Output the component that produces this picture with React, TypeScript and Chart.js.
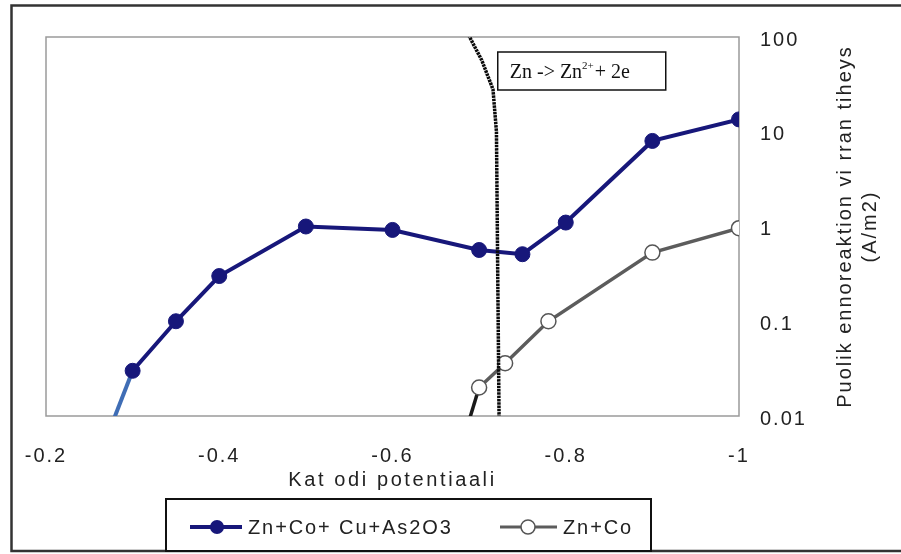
import React, { useEffect, useRef } from 'react';
import { Chart, registerables } from 'chart.js';

Chart.register(...registerables);

// ---- data ----
const xTickValues = [-1, -0.8, -0.6, -0.4, -0.2];
const yTickValues = [0.01, 0.1, 1, 10, 100];
const seriesNames = ['Zn+Co+ Cu+As2O3', 'Zn+Co'];
const xTitle = 'Kat odi potentiaali';
const yTitleLines = ['Puolik ennoreaktion vi rran tiheys', '(A/m2)'];
const annotationMain = 'Zn -> Zn';
const annotationSup = '2+';
const annotationTail = '+ 2e';

const blueX = [-0.25, -0.3, -0.35, -0.4, -0.5, -0.6, -0.7, -0.75, -0.8, -0.9, -1.0];
const blueY = [0.002, 0.03, 0.1, 0.3, 1.0, 0.92, 0.565, 0.51, 1.1, 8.0, 13.5];

const grayX = [-0.68, -0.7, -0.73, -0.78, -0.9, -1.0];
const grayY = [0.005, 0.02, 0.036, 0.1, 0.53, 0.96];

const znX = [-0.684, -0.689, -0.703, -0.716, -0.72, -0.721, -0.7215, -0.722, -0.723, -0.724];
const znY = [200, 100, 57, 28, 10, 1, 0.3, 0.1, 0.01, 0.005];

const FONT = '"Liberation Sans", Arial, sans-serif';
const SERIF = '"Liberation Serif", "DejaVu Serif", serif';
const NAVY = '#17177a';
const LIGHTBLUE = '#3f6db5';
const GRAY = '#5c5c5c';

const toPts = (xs: number[], ys: number[]) => xs.map((x, i) => ({ x, y: ys[i] }));

export default function App() {
  const ref = useRef<HTMLCanvasElement>(null);

  useEffect(() => {
    const canvas = ref.current!;

    const spacing = {
      id: 'spacing',
      beforeUpdate(chart: any) { chart.ctx.letterSpacing = '2px'; },
      beforeDraw(chart: any) { chart.ctx.letterSpacing = '2px'; },
    };

    const decor = {
      id: 'decor',
      beforeDatasetsDraw(chart: any) {
        const { ctx, chartArea: a } = chart;
        ctx.save();
        ctx.letterSpacing = '0px';
        // outer frame
        ctx.strokeStyle = '#333';
        ctx.lineWidth = 2.5;
        ctx.beginPath();
        ctx.moveTo(901, 5.5);
        ctx.lineTo(11.5, 5.5);
        ctx.lineTo(11.5, 551);
        ctx.lineTo(901, 551);
        ctx.stroke();
        // plot border
        ctx.strokeStyle = '#9a9a9a';
        ctx.lineWidth = 1.5;
        ctx.strokeRect(a.left, a.top, a.right - a.left, a.bottom - a.top);
        ctx.restore();
      },
      afterDatasetsDraw(chart: any) {
        const { ctx, chartArea: a, scales } = chart;
        ctx.save();
        ctx.letterSpacing = '0px';
        // annotation box
        const left = scales.x.getPixelForValue(-0.7215);
        const top = a.top + 15;
        const w = 168, h = 38;
        ctx.fillStyle = '#fff';
        ctx.fillRect(left, top, w, h);
        ctx.strokeStyle = '#111';
        ctx.lineWidth = 1.5;
        ctx.strokeRect(left, top, w, h);
        ctx.fillStyle = '#111';
        ctx.textBaseline = 'alphabetic';
        ctx.textAlign = 'left';
        const base = top + h / 2 + 7;
        ctx.font = `20px ${SERIF}`;
        let cx = left + 12;
        ctx.fillText(annotationMain, cx, base);
        cx += ctx.measureText(annotationMain).width;
        ctx.font = `11px ${SERIF}`;
        ctx.fillText(annotationSup, cx, base - 9);
        cx += ctx.measureText(annotationSup).width + 1;
        ctx.font = `20px ${SERIF}`;
        ctx.fillText(annotationTail, cx, base);
        ctx.restore();
      },
      afterDraw(chart: any) {
        const { ctx, chartArea: a } = chart;
        ctx.save();
        ctx.fillStyle = '#222';
        ctx.font = `20px ${FONT}`;
        ctx.letterSpacing = '2.6px';
        ctx.textAlign = 'center';
        ctx.textBaseline = 'middle';
        // x title
        ctx.fillText(xTitle, (a.left + a.right) / 2, a.bottom + 64);
        // y title
        ctx.save();
        ctx.letterSpacing = '2px';
        ctx.translate(a.right + 106, (a.top + a.bottom) / 2);
        ctx.rotate(-Math.PI / 2);
        yTitleLines.forEach((t, i) => ctx.fillText(t, 0, i * 25));
        ctx.restore();

        // legend
        const lx = 166, ly = 499, lw = 485, lh = 52;
        ctx.fillStyle = '#fff';
        ctx.fillRect(lx, ly, lw, lh);
        ctx.strokeStyle = '#111';
        ctx.lineWidth = 2;
        ctx.strokeRect(lx, ly, lw, lh);
        const cy = 527;
        // entry 1
        ctx.strokeStyle = NAVY;
        ctx.lineWidth = 4;
        ctx.beginPath();
        ctx.moveTo(190, cy);
        ctx.lineTo(242, cy);
        ctx.stroke();
        ctx.fillStyle = NAVY;
        ctx.beginPath();
        ctx.arc(217, cy, 7, 0, Math.PI * 2);
        ctx.fill();
        ctx.fillStyle = '#222';
        ctx.letterSpacing = '1.9px';
        ctx.textAlign = 'left';
        ctx.font = `20px ${FONT}`;
        ctx.fillText(seriesNames[0], 248, cy + 1);
        // entry 2
        ctx.strokeStyle = GRAY;
        ctx.lineWidth = 3;
        ctx.beginPath();
        ctx.moveTo(500, cy);
        ctx.lineTo(557, cy);
        ctx.stroke();
        ctx.fillStyle = '#fff';
        ctx.lineWidth = 1.5;
        ctx.strokeStyle = '#555';
        ctx.beginPath();
        ctx.arc(528, cy, 7, 0, Math.PI * 2);
        ctx.fill();
        ctx.stroke();
        ctx.fillStyle = '#222';
        ctx.fillText(seriesNames[1], 563, cy + 1);
        ctx.restore();
      },
    };

    const chart = new Chart(canvas, {
      type: 'line',
      data: {
        datasets: [
          {
            label: 'Zn -> Zn2+ + 2e',
            data: toPts(znX, znY),
            borderColor: '#0a0a0a',
            borderWidth: 3.5,
            borderDash: [2.5, 0.8],
            pointRadius: 0,
            tension: 0,
          },
          {
            label: seriesNames[0],
            data: toPts(blueX, blueY),
            borderColor: NAVY,
            borderWidth: 4,
            pointRadius: 7.5,
            pointBackgroundColor: NAVY,
            pointBorderColor: NAVY,
            pointBorderWidth: 1,
            segment: {
              borderColor: (c: any) => (c.p0DataIndex === 0 ? LIGHTBLUE : NAVY),
            },
          },
          {
            label: seriesNames[1],
            data: toPts(grayX, grayY),
            borderColor: GRAY,
            borderWidth: 3.5,
            pointRadius: 7.5,
            pointBackgroundColor: '#fff',
            pointBorderColor: '#555',
            pointBorderWidth: 1.5,
            segment: {
              borderColor: (c: any) => (c.p0DataIndex === 0 ? '#1a1a1a' : GRAY),
            },
          },
        ],
      },
      options: {
        animation: false,
        responsive: false,
        devicePixelRatio: 1,
        layout: { padding: { top: 37, left: 46, right: 0, bottom: 0 } },
        plugins: {
          legend: { display: false },
          tooltip: { enabled: false },
          title: { display: false },
        },
        scales: {
          x: {
            type: 'linear',
            min: -1,
            max: -0.2,
            reverse: true,
            grid: { display: false, drawTicks: false },
            border: { display: false },
            afterBuildTicks: (s: any) => { s.ticks = xTickValues.map((v) => ({ value: v })); },
            afterFit: (s: any) => { s.height = 138; },
            ticks: {
              padding: 28,
              maxRotation: 0,
              color: '#222',
              font: { family: FONT, size: 20 },
              callback: (v: any) => String(v),
            },
          },
          y: {
            type: 'logarithmic',
            position: 'right',
            min: 0.01,
            max: 100,
            grid: { display: false, drawTicks: false },
            border: { display: false },
            afterBuildTicks: (s: any) => { s.ticks = yTickValues.map((v) => ({ value: v })); },
            afterFit: (s: any) => { s.width = 162; },
            ticks: {
              padding: 21,
              labelOffset: 3,
              color: '#222',
              font: { family: FONT, size: 20 },
              callback: (v: any) => String(v),
            },
          },
        },
      },
      plugins: [spacing, decor],
    } as any);

    return () => chart.destroy();
  }, []);

  return (
    <div style={{ position: 'fixed', left: 0, top: 0, width: 901, height: 554, background: '#fff' }}>
      <canvas ref={ref} width={901} height={554} style={{ display: 'block' }} />
    </div>
  );
}
